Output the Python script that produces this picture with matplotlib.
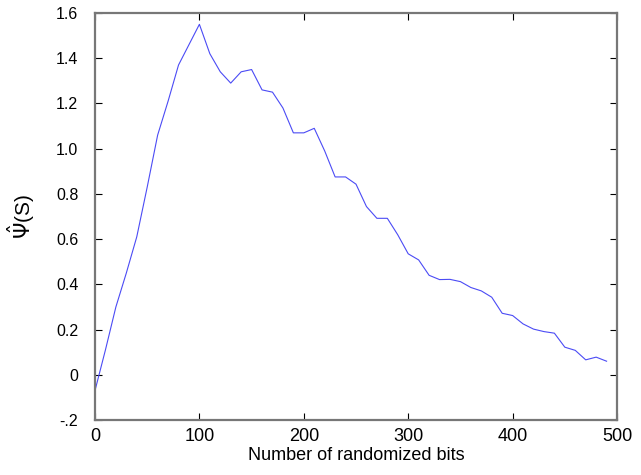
import numpy as np
import matplotlib
matplotlib.use("Agg")
import matplotlib.pyplot as plt

plt.rcParams['font.family'] = ['Liberation Sans', 'DejaVu Sans']
plt.rcParams['mathtext.fontset'] = 'dejavusans'

bits = np.arange(0, 500, 10)
psi = [-0.07, 0.11, 0.30, 0.45, 0.61, 0.83, 1.06, 1.21, 1.37, 1.46,
       1.55, 1.42, 1.34, 1.29, 1.34, 1.35, 1.26, 1.25, 1.18, 1.07,
       1.07, 1.09, 0.99, 0.875, 0.875, 0.843, 0.744, 0.692, 0.692, 0.619,
       0.535, 0.508, 0.44, 0.421, 0.422, 0.412, 0.386, 0.371, 0.343, 0.272,
       0.262, 0.225, 0.202, 0.191, 0.184, 0.122, 0.108, 0.066, 0.078, 0.06]

xticks = [0, 100, 200, 300, 400, 500]
yticks = [-0.2, 0, 0.2, 0.4, 0.6, 0.8, 1.0, 1.2, 1.4, 1.6]
ylabels = ['-.2', '0', '0.2', '0.4', '0.6', '0.8', '1.0', '1.2', '1.4', '1.6']

fig = plt.figure(figsize=(6.41, 4.75), dpi=100)
ax = fig.add_axes([0.1482, 0.1158, 0.8144, 0.8568])

ax.plot(bits, psi, color='#4b4bf5', linewidth=0.8)

ax.set_xlim(0, 500)
ax.set_ylim(-0.2, 1.6)
ax.set_xticks(xticks)
ax.set_xticklabels([str(t) for t in xticks], fontsize=13)
ax.set_yticks(yticks)
ax.set_yticklabels(ylabels, fontsize=11.5)

ax.tick_params(direction='in', top=True, right=True, length=5, width=0.8,
               color='black')
ax.tick_params(axis='y', pad=12)
ax.tick_params(axis='x', pad=6)

for s in ax.spines.values():
    s.set_color('#777777')
    s.set_linewidth(1.6)

ax.set_xlabel('Number of randomized bits', fontsize=13, labelpad=1)
ax.set_ylabel(r'$\hat{\Psi}$(S)', fontsize=15, labelpad=14)

fig.savefig('out.png', dpi=100)
